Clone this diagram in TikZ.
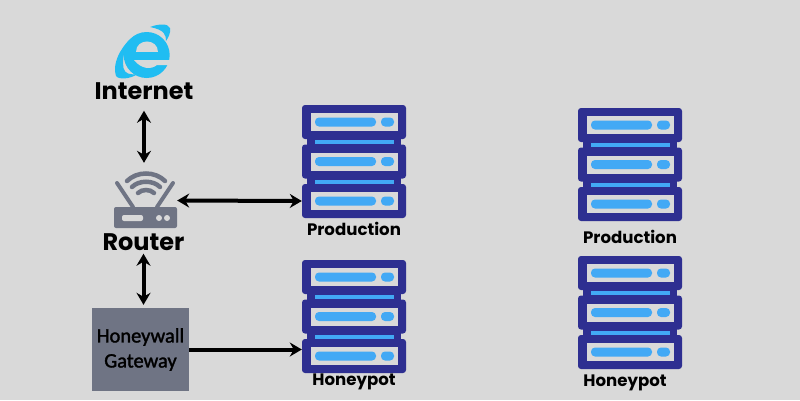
\documentclass[tikz,border=0pt]{standalone}
\usepackage{fontspec}
\setmainfont{Poppins}
\newfontfamily\gatefont[FakeBold=1.6]{Carlito}
\usetikzlibrary{arrows.meta}
\definecolor{bggray}{HTML}{D9D9D9}
\definecolor{rackblue}{HTML}{2E2F91}
\definecolor{barblue}{HTML}{42A9F5}
\definecolor{iecyan}{HTML}{20BDF2}
\definecolor{slategray}{HTML}{6F7484}
\tikzset{
    biglabel/.style={font=\fontsize{24}{26}\selectfont\bfseries, inner sep=0pt},
    smalllabel/.style={font=\fontsize{16.6}{18}\selectfont\bfseries, inner sep=0pt},
    link/.style={line width=4pt, {Stealth[length=12pt,width=14pt,inset=4pt]}-{Stealth[length=12pt,width=14pt,inset=4pt]}},
    linkto/.style={line width=4pt, -{Stealth[length=12pt,width=14pt,inset=4pt]}},
    rackunit/.pic={
        \fill[rackblue, rounded corners=3pt] (-52,-17) rectangle (52,17);
        \fill[bggray] (-43.5,-9) rectangle (43.5,9);
        \fill[barblue, rounded corners=4pt] (-39,-4.5) rectangle (22,4.5);
        \fill[barblue, rounded corners=4pt] (27,-4.5) rectangle (40,4.5);
    },
    serverstack/.pic={
        \fill[rackblue] (-47,-23) rectangle (47,23);
        \fill[barblue] (-39,-21.5) rectangle (40,-17.5);
        \fill[barblue] (-39,18) rectangle (40,22);
        \pic at (0,-39.5) {rackunit};
        \pic at (0,0) {rackunit};
        \pic at (0,39.5) {rackunit};
        \node[minimum width=104pt, minimum height=34pt, inner sep=0pt] at (0,39.5) (-low) {};
    }
}
\begin{document}
\begin{tikzpicture}[x=1pt, y=-1pt]
    \fill[bggray] (0,0) rectangle (800,400);
    \useasboundingbox (0,0) rectangle (800,400);

    \fill[iecyan] (146.7,55) circle[radius=23pt];
    \fill[bggray] (136,52) .. controls (136,38) and (158,38) .. (158,52) -- cycle;
    \fill[bggray] (134,60) -- (172,60) -- (172,65) -- (157,65) .. controls (151,70) and (141,69) .. (134,60) -- cycle;
    \fill[iecyan] (150,27) .. controls (158,24) and (168,23) .. (170,28) .. controls (171,33) and (168,38) .. (166,41) .. controls (166,35) and (165,30) .. (150,27) -- cycle;
    \fill[iecyan] (130,39) .. controls (120,49) and (112,64) .. (116,76) .. controls (119,80) and (130,79) .. (138,74) .. controls (130,75) and (125,74) .. (123.5,68) .. controls (122,58) and (125,46) .. (130,39) -- cycle;

    \node at (144,91) [biglabel] (internet) {Internet};

    \node at (145.5,200.5) [minimum width=63pt, minimum height=55pt, inner sep=0pt] (routericon) {};
    \fill[slategray, rounded corners=2pt] (114,207) rectangle (177,228);
    \fill[bggray, rounded corners=2pt] (122,215) rectangle (143,221);
    \fill[bggray] (159,218) circle[radius=3pt];
    \fill[bggray] (167,218) circle[radius=3pt];
    \draw[slategray, line width=4pt, line cap=round] (117,183) -- (133,207);
    \draw[slategray, line width=4pt, line cap=round] (173,183) -- (157,207);
    \draw[slategray, line width=4.5pt, line cap=round] (127,181) .. controls (137,171) and (155,171) .. (165,181);
    \draw[slategray, line width=4.5pt, line cap=round] (132,187) .. controls (139,180) and (153,180) .. (160,187);
    \draw[slategray, line width=4.5pt, line cap=round] (138,193) .. controls (142,189) and (150,189) .. (154,193);

    \node at (143.5,242) [biglabel] (router) {Router};

    \node at (140.5,349.5) [fill=slategray, minimum width=97pt, minimum height=83pt, inner sep=0pt, align=center, font=\fontsize{20.5}{25}\gatefont\selectfont] (gateway) {Honeywall\\Gateway};

    \pic (prod) at (354,161.5) {serverstack};
    \pic (hpot) at (354,316.5) {serverstack};
    \pic (prodtwo) at (630,164.5) {serverstack};
    \pic (hpottwo) at (630,312.5) {serverstack};

    \node at (354,229) [smalllabel] (prodlabel) {Production};
    \node at (354,381.5) [smalllabel] (hpotlabel) {Honeypot};
    \node at (630,237) [smalllabel] (prodtwolabel) {Production};
    \node at (625,382.5) [smalllabel] (hpottwolabel) {Honeypot};

    \draw[link, shorten <=11pt, shorten >=10pt] (internet.south) -- (internet.south |- routericon.north);
    \draw[link] (routericon.east) -- (prod-low.west);
    \draw[link, shorten <=3pt, shorten >=3pt] (router.south) -- (router.south |- gateway.north);
    \draw[linkto] (gateway.east) -- (gateway.east -| hpot-low.west);
\end{tikzpicture}
\end{document}
